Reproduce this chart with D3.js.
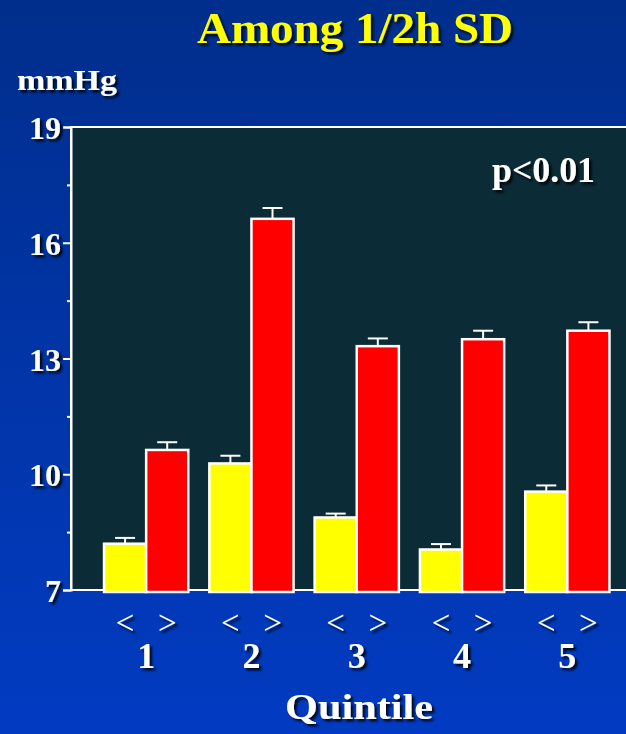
<!DOCTYPE html>
<html>
<head>
<meta charset="utf-8">
<script src="https://cdn.jsdelivr.net/npm/d3@7"></script>
<style>
  html, body { margin: 0; padding: 0; background: #0234b0; }
  svg { display: block; }
</style>
</head>
<body>
<script>
// data
var quintiles = ["1", "2", "3", "4", "5"];
var groups = ["<", ">"];
var lowValues = [8.2, 10.28, 8.88, 8.05, 9.55];   // yellow bars
var lowErrors = [0.15, 0.2, 0.1, 0.14, 0.16];
var highValues = [10.63, 16.62, 13.32, 13.5, 13.72]; // red bars
var highErrors = [0.2, 0.28, 0.2, 0.22, 0.22];
var yMajorTicks = [7, 10, 13, 16, 19];
var yMinorTicks = [8.5, 11.5, 14.5, 17.5];

var width = 626, height = 734;
var serif = "Liberation Serif, Times New Roman, serif";

var svg = d3.select("body").append("svg")
    .attr("width", width)
    .attr("height", height);

var defs = svg.append("defs");
var grad = defs.append("linearGradient")
    .attr("id", "bg").attr("x1", 0).attr("y1", 0).attr("x2", 0).attr("y2", 1);
grad.append("stop").attr("offset", "0%").attr("stop-color", "#002e8c");
grad.append("stop").attr("offset", "100%").attr("stop-color", "#023bc2");

var shadow = defs.append("filter").attr("id", "shadow")
    .attr("x", "-10%").attr("y", "-10%").attr("width", "130%").attr("height", "140%");
shadow.append("feDropShadow")
    .attr("dx", 2.5).attr("dy", 2.5).attr("stdDeviation", 1)
    .attr("flood-color", "#000").attr("flood-opacity", 0.85);

svg.append("rect").attr("width", width).attr("height", height).attr("fill", "url(#bg)");

var yScale = d3.scaleLinear().domain([7, 19]).range([590, 127]);

var x0 = d3.scaleBand().domain(quintiles)
    .range([93.5, 620]).paddingInner(0.2).paddingOuter(0.1);
var x1 = d3.scaleBand().domain(groups).range([0, x0.bandwidth()]);

// plot area
svg.append("rect")
    .attr("x", 71).attr("y", yScale(19))
    .attr("width", 600).attr("height", yScale(7) - yScale(19))
    .attr("fill", "#0b2b36")
    .attr("stroke", "#ffffff").attr("stroke-width", 2);

// y axis
var yAxis = d3.axisLeft(yScale).tickValues(yMajorTicks).tickSize(8).tickFormat(d3.format("d"));
var yAxisG = svg.append("g").attr("transform", "translate(71,0)").call(yAxis);
yAxisG.select(".domain").attr("stroke", "#fff").attr("stroke-width", 2);
yAxisG.selectAll(".tick line").attr("stroke", "#fff").attr("stroke-width", 2);
yAxisG.selectAll(".tick text")
    .attr("x", -10).attr("dy", "0.36em")
    .attr("fill", "#fff")
    .attr("font-family", serif)
    .attr("font-weight", "bold")
    .attr("font-size", 32)
    .attr("filter", "url(#shadow)");

var yMinor = d3.axisLeft(yScale).tickValues(yMinorTicks).tickSize(4).tickFormat("");
var yMinorG = svg.append("g").attr("transform", "translate(71,0)").call(yMinor);
yMinorG.select(".domain").remove();
yMinorG.selectAll(".tick line").attr("stroke", "#fff").attr("stroke-width", 2);

// bars
var rows = quintiles.map(function(q, i) {
    return [
        { q: q, g: "<", v: lowValues[i], e: lowErrors[i], color: "#ffff00" },
        { q: q, g: ">", v: highValues[i], e: highErrors[i], color: "#ff0000" }
    ];
});

var groupSel = svg.append("g").selectAll("g")
    .data(rows).enter().append("g")
    .attr("transform", function(d) { return "translate(" + x0(d[0].q) + ",0)"; });

var bar = groupSel.selectAll("g.bar").data(function(d) { return d; })
    .enter().append("g").attr("class", "bar");

// error bars
bar.append("line")
    .attr("x1", function(d) { return x1(d.g) + x1.bandwidth() / 2; })
    .attr("x2", function(d) { return x1(d.g) + x1.bandwidth() / 2; })
    .attr("y1", function(d) { return yScale(d.v); })
    .attr("y2", function(d) { return yScale(d.v + d.e); })
    .attr("stroke", "#fff").attr("stroke-width", 2);
bar.append("line")
    .attr("x1", function(d) { return x1(d.g) + x1.bandwidth() / 2 - 10; })
    .attr("x2", function(d) { return x1(d.g) + x1.bandwidth() / 2 + 10; })
    .attr("y1", function(d) { return yScale(d.v + d.e); })
    .attr("y2", function(d) { return yScale(d.v + d.e); })
    .attr("stroke", "#fff").attr("stroke-width", 2);

bar.append("rect")
    .attr("x", function(d) { return x1(d.g); })
    .attr("y", function(d) { return yScale(d.v); })
    .attr("width", x1.bandwidth())
    .attr("height", function(d) { return yScale(7) - yScale(d.v) + 2; })
    .attr("fill", function(d) { return d.color; })
    .attr("stroke", "#fff").attr("stroke-width", 2.5);

// x labels
bar.append("text")
    .attr("x", function(d) { return x1(d.g) + x1.bandwidth() / 2; })
    .attr("y", 634)
    .attr("text-anchor", "middle")
    .attr("fill", "#fff")
    .attr("font-family", serif)
    .attr("font-size", 33)
    .attr("filter", "url(#shadow)")
    .text(function(d) { return d.g; });

groupSel.append("text")
    .attr("x", x0.bandwidth() / 2)
    .attr("y", 668)
    .attr("text-anchor", "middle")
    .attr("fill", "#fff")
    .attr("font-family", serif)
    .attr("font-weight", "bold")
    .attr("font-size", 36)
    .attr("filter", "url(#shadow)")
    .text(function(d) { return d[0].q; });

// titles
svg.append("text")
    .attr("x", 197).attr("y", 43)
    .attr("fill", "#ffff00")
    .attr("font-family", serif)
    .attr("font-weight", "bold")
    .attr("font-size", 45)
    .attr("textLength", 316).attr("lengthAdjust", "spacingAndGlyphs")
    .attr("filter", "url(#shadow)")
    .text("Among 1/2h SD");

svg.append("text")
    .attr("x", 17).attr("y", 90)
    .attr("fill", "#fff")
    .attr("font-family", serif)
    .attr("font-weight", "bold")
    .attr("font-size", 30)
    .attr("textLength", 100).attr("lengthAdjust", "spacingAndGlyphs")
    .attr("filter", "url(#shadow)")
    .text("mmHg");

svg.append("text")
    .attr("x", 492).attr("y", 182)
    .attr("fill", "#fff")
    .attr("font-family", serif)
    .attr("font-weight", "bold")
    .attr("font-size", 35)
    .attr("textLength", 103).attr("lengthAdjust", "spacingAndGlyphs")
    .attr("filter", "url(#shadow)")
    .text("p<0.01");

svg.append("text")
    .attr("x", 285).attr("y", 719)
    .attr("fill", "#fff")
    .attr("font-family", serif)
    .attr("font-weight", "bold")
    .attr("font-size", 36)
    .attr("textLength", 148).attr("lengthAdjust", "spacingAndGlyphs")
    .attr("filter", "url(#shadow)")
    .text("Quintile");
</script>
</body>
</html>
